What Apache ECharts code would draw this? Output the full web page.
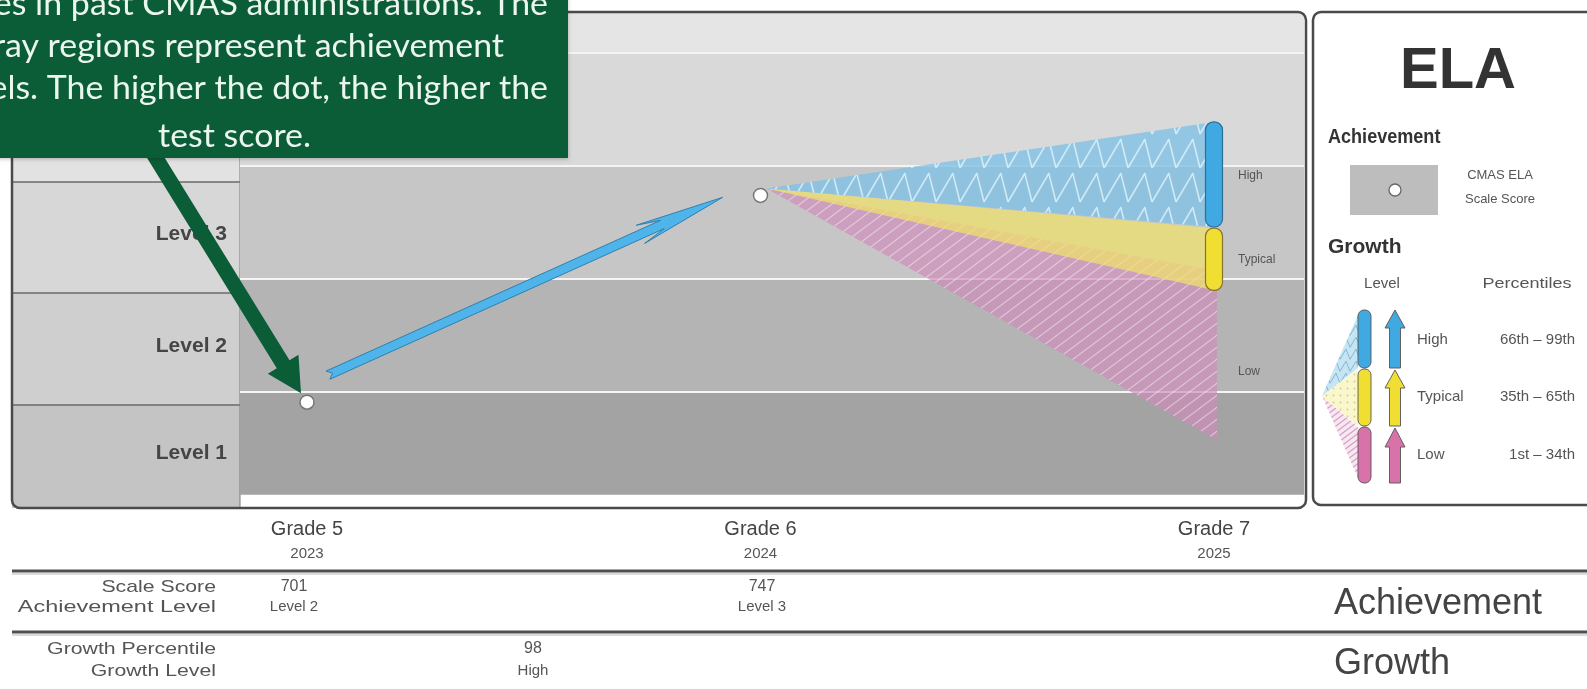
<!DOCTYPE html>
<html><head><meta charset="utf-8">
<script src="https://cdn.jsdelivr.net/npm/echarts@6/dist/echarts.min.js"></script>
<style>html,body{margin:0;padding:0;background:#fff}#c{width:1587px;height:689px}</style>
</head><body><div id="c"></div>
<script>
// ---------------- data ----------------
const grades = ['Grade 5', 'Grade 6', 'Grade 7'];
const years = ['2023', '2024', '2025'];
const scaleScores = ['701', '747', ''];
const achievementLevels = ['Level 2', 'Level 3', ''];
const growthPercentiles = ['98'];
const growthLevelText = ['High'];
const levelNames = ['Level 3', 'Level 2', 'Level 1'];
const levelBandEdges = [0.09, 1, 2, 3, 4, 4.36];     // achievement band edges (level units)
const dotLevels = [0.91, 2.74];                       // dot position of each past score (level units)
const growthNames = ['High', 'Typical', 'Low'];
const growthTop = [3.39, 2.45, 2.07];
const growthBottom = [2.46, 1.90, 0.575];
const growthLabelLevel = [2.91, 2.17, 1.18];
const growthHasBar = [true, true, false];
const legendPercentiles = ['66th – 99th', '35th – 65th', '1st – 34th'];
const calloutLines = ['scores in past CMAS administrations. The', 'gray regions represent achievement', 'levels. The higher the dot, the higher the', 'test score.'];

// ---------------- styles ----------------
const FF = 'Liberation Sans, Arial, sans-serif';
const bandColors = ['#a3a3a3', '#b4b4b4', '#c6c6c6', '#d9d9d9', '#e5e5e5'];
const plotLeft = 240, plotRight = 1304;
const barFill = ['#41a9e1', '#f1de33', '#d873aa'];
const barStroke = ['#2c6e98', '#847434', '#6b4a5c'];

function makeCanvas(w, h, draw) { const c = document.createElement('canvas'); c.width = w; c.height = h; draw(c.getContext('2d')); return c; }
function zigzagCanvas(base, line, w, h, lw, rise) {
  return makeCanvas(w, h, ctx => {
    ctx.fillStyle = base; ctx.fillRect(0, 0, w, h);
    ctx.strokeStyle = line; ctx.lineWidth = lw; ctx.lineJoin = 'round'; ctx.beginPath();
    const lo = h * 0.94, hi = h * 0.1;
    for (let k = -1; k <= 1; k++) {
      const x0 = k * w;
      ctx.moveTo(x0, lo); ctx.lineTo(x0 + w * rise, hi); ctx.lineTo(x0 + w, lo);
    }
    ctx.stroke();
  });
}
function hatchCanvas(base, line, w, h, lw) {
  return makeCanvas(w, h, ctx => {
    ctx.fillStyle = base; ctx.fillRect(0, 0, w, h);
    ctx.strokeStyle = line; ctx.lineWidth = lw;
    [[0, 0], [-w, 0], [w, 0], [0, h], [0, -h]].forEach(([dx, dy]) => { ctx.beginPath(); ctx.moveTo(dx, h + dy); ctx.lineTo(w + dx, dy); ctx.stroke(); });
  });
}
function dotsCanvas(base, dot) {
  return makeCanvas(7, 7, ctx => { ctx.fillStyle = base; ctx.fillRect(0, 0, 7, 7); ctx.fillStyle = dot; ctx.beginPath(); ctx.arc(3.5, 3.5, 0.9, 0, Math.PI * 2); ctx.fill(); });
}
const fanFills = [
  { image: zigzagCanvas('rgba(128,192,228,0.8)', 'rgba(235,248,255,0.7)', 24, 34, 1.7, 0.7), repeat: 'repeat' },
  'rgba(240,226,105,0.72)',
  { image: hatchCanvas('rgba(206,140,186,0.68)', 'rgba(255,255,255,0.45)', 16, 12, 1.1), repeat: 'repeat' }
];
const legendFanFills = [
  { image: zigzagCanvas('rgba(192,226,242,0.9)', 'rgba(120,170,205,0.8)', 10, 12, 1, 0.6), repeat: 'repeat' },
  { image: dotsCanvas('rgba(250,246,200,0.9)', 'rgba(200,190,120,0.8)'), repeat: 'repeat' },
  { image: hatchCanvas('rgba(246,228,240,0.9)', 'rgba(210,150,190,0.9)', 8, 6, 1.2), repeat: 'repeat' }
];

// ---------------- helpers ----------------
function arrowPoly(p0, p1, sh, headLen, hh, sweep, notch, tailNotch) {
  const dx = p1[0] - p0[0], dy = p1[1] - p0[1], L = Math.hypot(dx, dy);
  const u = [dx / L, dy / L], n = [-u[1], u[0]];
  const P = (b, a, c) => [b[0] + u[0] * a + n[0] * c, b[1] + u[1] * a + n[1] * c];
  const base = P(p1, -headLen, 0);
  return [p1, P(base, -sweep, hh), P(base, notch, sh), P(p0, 0, sh), P(p0, tailNotch, 0), P(p0, 0, -sh), P(base, notch, -sh), P(base, -sweep, -hh)];
}
function T(x, y, text, size, o) {
  o = o || {};
  return { type: 'text', x: x, y: y, z: o.z || 12, silent: true, scaleX: o.sx || 1,
    style: { text: text, fontSize: size, fontFamily: o.ff || FF, fontWeight: o.fw || 'normal', fill: o.c || '#555', align: o.a || 'left', verticalAlign: 'middle' } };
}

// ---------------- graphic (layout/frames/text) ----------------
const g = [];
const cellEdges = [12, 182, 293, 405, 508];
const cellColors = ['#e2e2e2', '#d7d7d7', '#cfcfcf', '#c4c4c4'];
for (let i = 0; i < 4; i++) g.push({ type: 'rect', z: 1, silent: true, shape: { x: 12, y: cellEdges[i], width: 228, height: cellEdges[i + 1] - cellEdges[i] }, style: { fill: cellColors[i] } });
for (let i = 1; i < 4; i++) g.push({ type: 'line', z: 1, silent: true, shape: { x1: 12, y1: cellEdges[i], x2: 240, y2: cellEdges[i] }, style: { stroke: '#6a6a6a', lineWidth: 1.4 } });
g.push({ type: 'line', z: 1, silent: true, shape: { x1: 240, y1: 12, x2: 240, y2: 508 }, style: { stroke: '#7a7a7a', lineWidth: 1 } });
levelNames.forEach((nm, i) => g.push(T(227, (cellEdges[i + 1] + cellEdges[i + 2]) / 2 - 3, nm, 21, { fw: 'bold', c: '#454545', a: 'right', z: 2 })));
// main panel frame
g.push({ type: 'rect', z: 10, silent: true, shape: { x: 12, y: 12, width: 1294, height: 496, r: 8 }, style: { fill: 'none', stroke: '#4a4a4a', lineWidth: 2.5 } });
// legend box
g.push({ type: 'rect', z: 1, silent: true, shape: { x: 1313, y: 12, width: 320, height: 493, r: 8 }, style: { fill: '#fff', stroke: '#4a4a4a', lineWidth: 2.5 } });
g.push(T(1458, 72, 'ELA', 58, { fw: 'bold', c: '#333', a: 'center' }));
g.push(T(1328, 137, 'Achievement', 21, { fw: 'bold', c: '#333', sx: 0.86 }));
g.push({ type: 'rect', z: 2, silent: true, shape: { x: 1350, y: 165, width: 88, height: 50 }, style: { fill: '#bdbdbd' } });
g.push({ type: 'circle', z: 3, silent: true, shape: { cx: 1395, cy: 190, r: 6 }, style: { fill: '#fff', stroke: '#666', lineWidth: 1.3 } });
g.push(T(1500, 175, 'CMAS ELA', 13, { a: 'center' }));
g.push(T(1500, 199, 'Scale Score', 13, { a: 'center' }));
g.push(T(1328, 247, 'Growth', 21, { fw: 'bold', c: '#333' }));
g.push(T(1382, 284, 'Level', 15, { a: 'center' }));
g.push(T(1527, 284, 'Percentiles', 15, { a: 'center', sx: 1.2 }));
const lgBar = [[310, 368], [369, 426], [427, 483]];
const lgArrow = [[310, 328, 368], [370, 388, 426], [428, 447, 483]];
const lgFanEnd = [[315, 368], [369, 426], [427, 478]];
[2, 1, 0].forEach(i => g.push({ type: 'polygon', z: 2, silent: true, shape: { points: [[1322, 396], [1358, lgFanEnd[i][0]], [1358, lgFanEnd[i][1]]] }, style: { fill: legendFanFills[i] } }));
for (let i = 0; i < 3; i++) {
  g.push({ type: 'rect', z: 3, silent: true, shape: { x: 1358, y: lgBar[i][0], width: 13, height: lgBar[i][1] - lgBar[i][0], r: 6 }, style: { fill: barFill[i], stroke: '#555', lineWidth: 0.9 } });
  const [t, b, e] = lgArrow[i], cx = 1395;
  g.push({ type: 'polygon', z: 3, silent: true, shape: { points: [[cx, t], [cx + 10, b], [cx + 5.5, b], [cx + 5.5, e], [cx - 5.5, e], [cx - 5.5, b], [cx - 10, b]] }, style: { fill: barFill[i], stroke: '#555', lineWidth: 0.9 } });
  const ly = [340, 397, 455][i];
  g.push(T(1417, ly, growthNames[i], 15));
  g.push(T(1575, ly, legendPercentiles[i], 15, { a: 'right' }));
}
// bottom table
[571, 632].forEach(y => {
  g.push({ type: 'line', z: 1, silent: true, shape: { x1: 12, y1: y, x2: 1587, y2: y }, style: { stroke: '#4f4f4f', lineWidth: 3 } });
  g.push({ type: 'line', z: 1, silent: true, shape: { x1: 12, y1: y + 3, x2: 1587, y2: y + 3 }, style: { stroke: '#cfcfcf', lineWidth: 1.5 } });
});
g.push(T(216, 587, 'Scale Score', 17, { a: 'right', sx: 1.25 }));
g.push(T(216, 607, 'Achievement Level', 17, { a: 'right', sx: 1.38 }));
g.push(T(216, 649, 'Growth Percentile', 17, { a: 'right', sx: 1.25 }));
g.push(T(216, 671, 'Growth Level', 17, { a: 'right', sx: 1.25 }));
const colX = [294, 762, 1216];
scaleScores.forEach((s, i) => { if (s) { g.push(T(colX[i], 587, s, 16, { a: 'center' })); g.push(T(colX[i], 607, achievementLevels[i], 15, { a: 'center' })); } });
growthPercentiles.forEach((s, i) => { const x = 533; g.push(T(x, 649, s, 16, { a: 'center' })); g.push(T(x, 671, growthLevelText[i], 15, { a: 'center' })); });
g.push(T(1334, 604, 'Achievement', 36, { c: '#444' }));
g.push(T(1334, 664, 'Growth', 36, { c: '#444' }));
// callout
g.push({ type: 'rect', z: 20, silent: true, shape: { x: -120, y: -10, width: 688, height: 168 }, style: { fill: '#0b5d38', shadowBlur: 4, shadowColor: 'rgba(0,0,0,0.25)', shadowOffsetY: 1 } });
const calloutRight = [548, 504, 548, 311], calloutY = [5, 47, 89, 137];
calloutLines.forEach((t, i) => g.push(T(calloutRight[i], calloutY[i], t, 32, { ff: 'Lato, Noto Sans, sans-serif', c: '#eaf6ee', a: 'right', z: 21, sx: 1.06 })));

// ---------------- chart ----------------
const chart = echarts.init(document.getElementById('c'), null, { renderer: 'canvas' });
const bandData = levelBandEdges.slice(0, -1).map((lo, i) => [0, lo, levelBandEdges[i + 1]]);
const fanData = [2, 1, 0].map(i => [2, growthTop[i], growthBottom[i], i]);
const barData = [0, 1, 2].map(i => [2, growthTop[i], growthBottom[i], i]);
const dotData = dotLevels.map((v, i) => [i, v]);

chart.setOption({
  animation: false,
  backgroundColor: '#fff',
  grid: { left: 307, right: 1587 - 1214, top: 505 - 4.36 * 113, bottom: 689 - 505 },
  xAxis: {
    type: 'value', min: 0, max: 2, interval: 1,
    axisLine: { show: false }, axisTick: { show: false }, splitLine: { show: false },
    axisLabel: {
      margin: 13,
      formatter: v => '{g|' + grades[v] + '}\n{y|' + years[v] + '}',
      rich: {
        g: { fontSize: 20, fontFamily: FF, color: '#444', lineHeight: 22, align: 'center' },
        y: { fontSize: 15, fontFamily: FF, color: '#555', lineHeight: 28, align: 'center' }
      }
    }
  },
  yAxis: { type: 'value', min: 0, max: 4.36, show: false, splitLine: { show: false } },
  graphic: { elements: g },
  series: [
    { type: 'custom', z: 1, silent: true, data: bandData, encode: { x: 0, y: [1, 2] },
      renderItem: (params, api) => {
        const i = params.dataIndex;
        const lo = api.coord([0, api.value(1)])[1], hi = api.coord([0, api.value(2)])[1];
        const ch = [{ type: 'rect', shape: { x: plotLeft, y: hi, width: plotRight - plotLeft, height: lo - hi }, style: { fill: bandColors[i] } }];
        if (i > 0) ch.push({ type: 'line', shape: { x1: plotLeft, y1: lo, x2: plotRight, y2: lo }, style: { stroke: '#f4f4f4', lineWidth: 2 } });
        return { type: 'group', children: ch };
      } },
    { type: 'custom', z: 3, silent: true, data: fanData, encode: { x: 0, y: [1, 2] },
      renderItem: (params, api) => {
        const i = api.value(3);
        const apex = api.coord([1, dotLevels[1]]);
        const xe = api.coord([api.value(0), 0])[0] + (i === 2 ? 3 : 0);
        const top = api.coord([0, api.value(1)])[1], bot = api.coord([0, api.value(2)])[1];
        return { type: 'polygon', shape: { points: [[apex[0] + 6, apex[1] - 7], [xe, top], [xe, bot]] }, style: { fill: fanFills[i] } };
      } },
    { type: 'custom', z: 4, silent: true, data: barData, encode: { x: 0, y: [1, 2] },
      renderItem: (params, api) => {
        const i = api.value(3);
        const x = api.coord([api.value(0), 0])[0];
        const y1 = api.coord([0, api.value(1)])[1], y2 = api.coord([0, api.value(2)])[1];
        const ch = [];
        if (growthHasBar[i]) ch.push({ type: 'rect', shape: { x: x - 8.5, y: y1, width: 17, height: y2 - y1, r: 8 }, style: { fill: barFill[i], stroke: barStroke[i], lineWidth: 1.2 } });
        const ly = api.coord([0, growthLabelLevel[i]])[1];
        ch.push({ type: 'text', x: x + 24, y: ly, style: { text: growthNames[i], fill: '#555', fontSize: 12, fontFamily: FF, align: 'left', verticalAlign: 'middle' } });
        return { type: 'group', children: ch };
      } },
    { type: 'custom', z: 5, silent: true, data: [[0, dotLevels[0], 1, dotLevels[1]]], encode: { x: [0, 2], y: [1, 3] },
      renderItem: (params, api) => {
        const a = api.coord([api.value(0), api.value(1)]), b = api.coord([api.value(2), api.value(3)]);
        const p0 = [a[0] + 21, a[1] - 27], p1 = [b[0] - 38, b[1] + 2];
        return { type: 'polygon', shape: { points: arrowPoly(p0, p1, 4.5, 80, 10, 10, 14, 5) }, style: { fill: '#4fb4ea', stroke: '#2f7fb0', lineWidth: 1 } };
      } },
    { type: 'custom', z: 15, silent: true, data: [[0, dotLevels[0]]], encode: { x: 0, y: 1 },
      renderItem: (params, api) => {
        const a = api.coord([api.value(0), api.value(1)]);
        const p1 = [a[0] - 6, a[1] - 9];
        return { type: 'polygon', shape: { points: arrowPoly([151, 150], p1, 7.5, 34, 18, 0, 0, 0) }, style: { fill: '#0b5d38' } };
      } },
    { type: 'scatter', z: 16, silent: true, data: dotData, symbol: 'circle', symbolSize: 14,
      itemStyle: { color: '#fff', borderColor: '#777', borderWidth: 1.5, opacity: 1 } }
  ]
});
</script></body></html>
